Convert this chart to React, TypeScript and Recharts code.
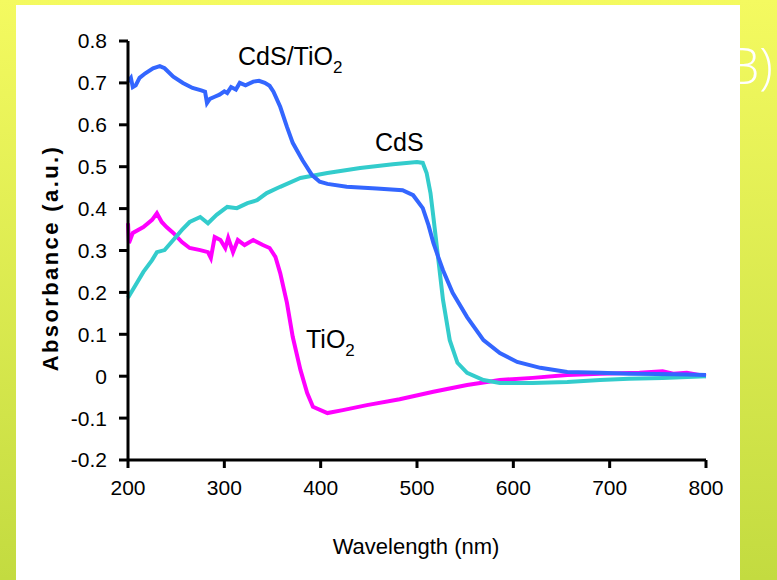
import { Line, LineChart, XAxis, YAxis } from "recharts";

// CdS/TiO2 composite
const cdsTiO2Wl = [200, 203, 205, 208, 212, 218, 226, 233, 238, 247, 257, 267, 276, 280, 282, 285, 290, 295, 300, 303, 307, 312, 316, 322, 330, 336, 342, 347, 351, 358, 365, 371, 381, 391, 399, 407, 427, 458, 485, 496, 506, 512, 517, 522, 527, 537, 552, 569, 586, 604, 628, 656, 690, 720, 750, 780, 800];
const cdsTiO2Abs = [0.703, 0.712, 0.69, 0.694, 0.712, 0.723, 0.735, 0.74, 0.735, 0.715, 0.7, 0.688, 0.682, 0.679, 0.652, 0.662, 0.667, 0.672, 0.68, 0.676, 0.69, 0.684, 0.7, 0.694, 0.703, 0.705, 0.7, 0.693, 0.679, 0.643, 0.595, 0.557, 0.516, 0.48, 0.464, 0.459, 0.452, 0.448, 0.444, 0.432, 0.401, 0.36, 0.318, 0.285, 0.253, 0.199, 0.141, 0.086, 0.055, 0.034, 0.02, 0.01, 0.008, 0.006, 0.005, 0.004, 0.003];

// CdS
const cdsWl = [200, 209, 216, 225, 230, 238, 247, 256, 264, 275, 283, 292, 303, 313, 324, 334, 344, 358, 379, 407, 441, 475, 500, 506, 510, 514, 517, 521, 527, 534, 542, 552, 569, 586, 620, 656, 690, 720, 755, 800];
const cdsAbs = [0.187, 0.222, 0.249, 0.277, 0.296, 0.301, 0.325, 0.349, 0.368, 0.38, 0.365, 0.385, 0.404, 0.401, 0.413, 0.42, 0.437, 0.452, 0.473, 0.485, 0.497, 0.506, 0.511, 0.509, 0.485, 0.437, 0.38, 0.301, 0.182, 0.086, 0.032, 0.008, -0.009, -0.016, -0.016, -0.014, -0.009, -0.006, -0.004, 0.0];

// TiO2
const tio2Wl = [200, 201, 205, 216, 225, 230, 235, 240, 247, 256, 264, 275, 283, 286, 290, 296, 301, 304, 309, 314, 321, 330, 340, 347, 353, 358, 365, 371, 379, 386, 392, 407, 423, 448, 482, 517, 552, 586, 620, 656, 690, 731, 755, 766, 780, 800];
const tio2Abs = [0.365, 0.318, 0.342, 0.356, 0.373, 0.389, 0.368, 0.356, 0.342, 0.32, 0.306, 0.301, 0.296, 0.282, 0.332, 0.325, 0.306, 0.33, 0.296, 0.325, 0.313, 0.325, 0.313, 0.306, 0.285, 0.246, 0.175, 0.094, 0.015, -0.04, -0.073, -0.088, -0.081, -0.069, -0.055, -0.037, -0.021, -0.009, -0.004, 0.003, 0.006, 0.008, 0.012, 0.006, 0.008, 0.0];

const xTicks = [200, 300, 400, 500, 600, 700, 800];
const yTicks = [-0.2, -0.1, 0, 0.1, 0.2, 0.3, 0.4, 0.5, 0.6, 0.7, 0.8];

const zip = (wl: number[], abs: number[]) => wl.map((w, i) => ({ wl: w, a: abs[i] }));

const FONT = "Arial, 'Liberation Sans', sans-serif";

const Sub = ({ children }: { children: React.ReactNode }) => (
  <span style={{ fontSize: 17, position: "relative", top: 8 }}>{children}</span>
);

export default function App() {
  const tickStyle = { fill: "#000", fontSize: 21, fontFamily: FONT };
  return (
    <div
      style={{
        position: "absolute",
        left: 0,
        top: 0,
        width: 777,
        height: 580,
        overflow: "hidden",
        background: "linear-gradient(#f4fa60, #c3db40)",
      }}
    >
      <div style={{ position: "absolute", left: 16, top: 5, width: 724, height: 575, background: "#fff" }} />
      <div
        style={{
          position: "absolute",
          left: 728,
          top: 30,
          color: "#fff",
          fontFamily: "'Open Sans', sans-serif",
          fontWeight: 300,
          fontSize: 50,
          lineHeight: "70px",
        }}
      >
        B)
      </div>
      <div style={{ position: "absolute", left: 0, top: 0 }}>
        <LineChart width={777} height={580} margin={{ top: 41, right: 71, bottom: 0, left: 0 }}>
          <XAxis
            dataKey="wl"
            type="number"
            domain={[200, 800]}
            ticks={xTicks}
            axisLine={{ stroke: "#000", strokeWidth: 3 }}
            tickLine={{ stroke: "#000", strokeWidth: 3 }}
            tickSize={8}
            tickMargin={12}
            tick={tickStyle}
            height={120}
            allowDuplicatedCategory={false}
          />
          <YAxis
            type="number"
            domain={[-0.2, 0.8]}
            ticks={yTicks}
            tickFormatter={(v: number) => String(Number(v.toFixed(1)))}
            axisLine={{ stroke: "#000", strokeWidth: 3 }}
            tickLine={{ stroke: "#000", strokeWidth: 3 }}
            tickSize={9}
            tickMargin={12}
            tick={tickStyle}
            width={128}
          />
          <Line data={zip(tio2Wl, tio2Abs)} dataKey="a" stroke="#ff00ff" strokeWidth={4} dot={false} type="linear" isAnimationActive={false} />
          <Line data={zip(cdsWl, cdsAbs)} dataKey="a" stroke="#33cccc" strokeWidth={4} dot={false} type="linear" isAnimationActive={false} />
          <Line data={zip(cdsTiO2Wl, cdsTiO2Abs)} dataKey="a" stroke="#3366ff" strokeWidth={4} dot={false} type="linear" isAnimationActive={false} />
        </LineChart>
      </div>

      {/* axis titles */}
      <div
        style={{
          position: "absolute",
          left: 51,
          top: 258,
          transform: "translate(-50%, -50%) rotate(-90deg)",
          whiteSpace: "nowrap",
          fontFamily: FONT,
          fontWeight: 700,
          fontSize: 22,
          letterSpacing: 2.4,
        }}
      >
        Absorbance (a.u.)
      </div>
      <div
        style={{
          position: "absolute",
          left: 416,
          top: 547,
          transform: "translate(-50%, -50%)",
          whiteSpace: "nowrap",
          fontFamily: FONT,
          fontSize: 22,
        }}
      >
        Wavelength (nm)
      </div>

      {/* curve labels */}
      <div style={{ position: "absolute", left: 238, top: 41, fontFamily: FONT, fontSize: 25, lineHeight: "30px", whiteSpace: "nowrap" }}>
        CdS/TiO<Sub>2</Sub>
      </div>
      <div style={{ position: "absolute", left: 375, top: 127, fontFamily: FONT, fontSize: 25, lineHeight: "30px", whiteSpace: "nowrap" }}>
        CdS
      </div>
      <div style={{ position: "absolute", left: 306, top: 324, fontFamily: FONT, fontSize: 25, lineHeight: "30px", whiteSpace: "nowrap" }}>
        TiO<Sub>2</Sub>
      </div>
    </div>
  );
}
